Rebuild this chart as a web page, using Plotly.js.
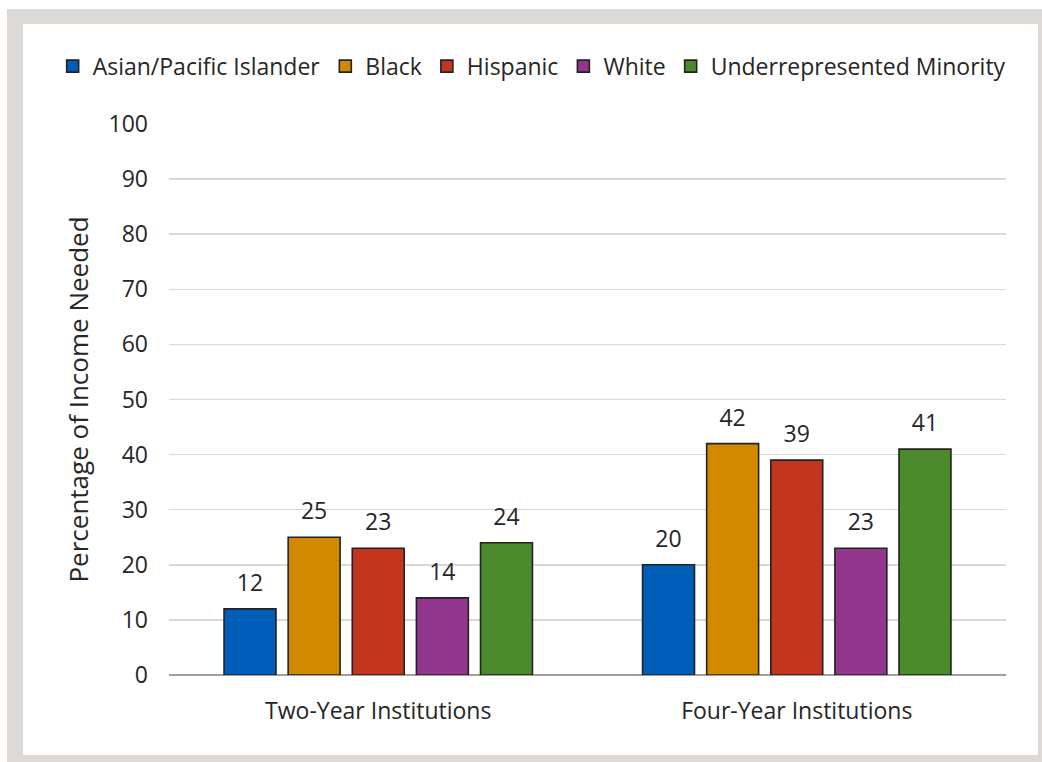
<!DOCTYPE html>
<html>
<head>
<meta charset="utf-8">
<script src="https://cdn.plot.ly/plotly-3.0.1.min.js"></script>
<style>
  html, body { margin: 0; padding: 0; background: #ffffff; width: 1042px; height: 762px; overflow: hidden; }
  #frame { position: absolute; left: 7px; top: 9px; width: 1035px; height: 753px; background: #dcd9d6; }
  #chart { position: absolute; left: 23px; top: 24px; width: 1015px; height: 731px; background: #ffffff; }
</style>
</head>
<body>
<div id="frame"></div>
<div id="chart"></div>
<script>
const categories = ["Two-Year Institutions", "Four-Year Institutions"];
const seriesNames = ["Asian/Pacific Islander", "Black", "Hispanic", "White", "Underrepresented Minority"];
const asianPacific = [12, 20];
const black = [25, 42];
const hispanic = [23, 39];
const white = [14, 23];
const underrepresented = [24, 41];
const yTicks = [0, 10, 20, 30, 40, 50, 60, 70, 80, 90, 100];

const seriesValues = [asianPacific, black, hispanic, white, underrepresented];
const colors = ["#005eb8", "#d18a00", "#c4351e", "#93368e", "#4b8b2b"];
const FONT = "Open Sans, DejaVu Sans, sans-serif";
const TXT = "#262626";

const traces = [];
seriesValues.forEach((vals, i) => {
  traces.push({
    type: "bar",
    name: seriesNames[i],
    x: categories,
    y: vals,
    marker: { color: colors[i], line: { color: "#222222", width: 1.6 } },
    hoverinfo: "skip"
  });
});
seriesValues.forEach((vals, i) => {
  traces.push({
    type: "scatter",
    mode: "markers+text",
    x: categories,
    y: vals,
    text: vals.map(String),
    textposition: "top center",
    textfont: { family: FONT, size: 23, color: TXT },
    marker: { size: 18, opacity: 0 },
    showlegend: false,
    hoverinfo: "skip",
    cliponaxis: false
  });
});

const layout = {
  width: 1015,
  height: 731,
  paper_bgcolor: "#ffffff",
  plot_bgcolor: "#ffffff",
  font: { family: FONT, size: 23, color: TXT },
  margin: { l: 146, r: 32, t: 100, b: 80 },
  barmode: "group",
  bargap: 0.234,
  bargroupgap: 0.19,
  scattermode: "group",
  scattergap: 0.234,
  showlegend: true,
  legend: {
    orientation: "h",
    x: -0.139,
    xanchor: "left",
    y: 1.105,
    yanchor: "middle",
    font: { family: FONT, size: 23, color: TXT },
    itemwidth: 30,
    traceorder: "normal"
  },
  xaxis: {
    type: "category",
    showgrid: false,
    showline: false,
    zeroline: false,
    ticks: "",
    ticklabelstandoff: 20,
    tickfont: { family: FONT, size: 23, color: TXT }
  },
  yaxis: {
    range: [0, 100],
    tickvals: yTicks,
    ticktext: yTicks.map(String),
    showgrid: true,
    gridcolor: "#d9d9d9",
    gridwidth: 1.5,
    zeroline: true,
    zerolinecolor: "#a0a0a0",
    zerolinewidth: 2,
    showline: false,
    ticks: "",
    ticklabelstandoff: 20,
    tickfont: { family: FONT, size: 23, color: TXT },
    title: { text: "Percentage of Income Needed", font: { family: FONT, size: 26, color: TXT }, standoff: 12 }
  }
};

Plotly.newPlot("chart", traces, layout, { displayModeBar: false, staticPlot: true });
</script>
</body>
</html>
